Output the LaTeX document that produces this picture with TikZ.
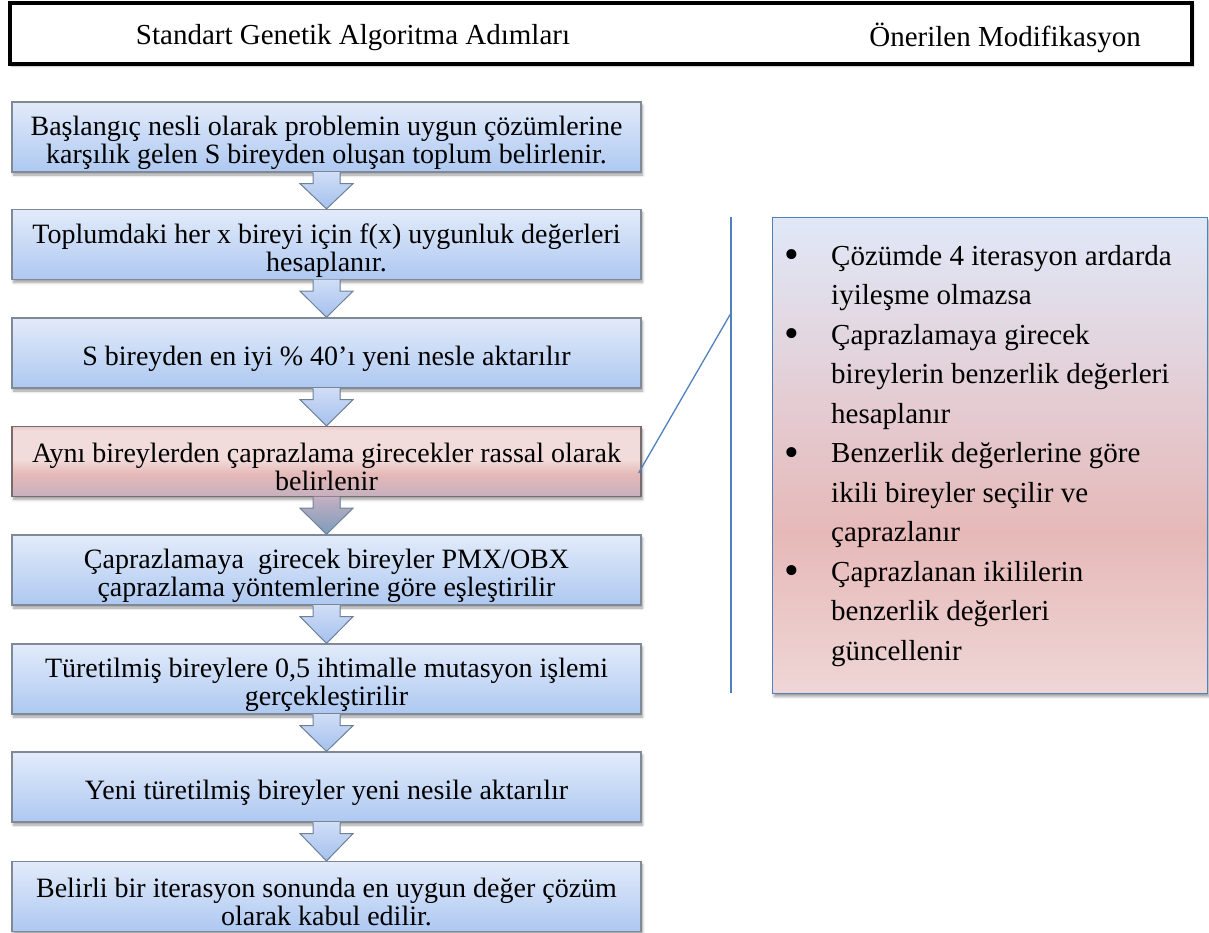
\documentclass[tikz,border=0pt]{standalone}
\usepackage{fontspec}
\usepackage{graphicx}
\setmainfont{Liberation Serif}
\usetikzlibrary{calc,shadows.blur}
\definecolor{blueT}{HTML}{E2EBFA}
\definecolor{blueB}{HTML}{AEC8F1}
\definecolor{boxedge}{HTML}{7F8A96}
\definecolor{arrT}{HTML}{D0DEF6}
\definecolor{arrB}{HTML}{A5C0EE}
\definecolor{arredge}{HTML}{6E8297}
\definecolor{redTop}{HTML}{E9C9C9}
\definecolor{redL}{HTML}{F2DCDB}
\definecolor{redM}{HTML}{E5B9B8}
\definecolor{redB}{HTML}{C6B0BE}
\definecolor{rededge}{HTML}{776B6E}
\definecolor{rarrT}{HTML}{C4B0C2}
\definecolor{rarrB}{HTML}{7C9CBC}
\definecolor{modT}{HTML}{E0E8F8}
\definecolor{modM}{HTML}{E6B9B8}
\definecolor{modB}{HTML}{EFD6D6}
\definecolor{modedge}{HTML}{4F81BD}
\pgfdeclareverticalshading{redfill}{100bp}{color(0bp)=(redB); color(25bp)=(redB); color(41bp)=(redM); color(52bp)=(redL); color(72bp)=(redL); color(75bp)=(redTop); color(100bp)=(redTop)}
\pgfdeclareverticalshading{modfill}{100bp}{color(0bp)=(modB); color(25bp)=(modB); color(42bp)=(modM); color(60bp)=(modT!55!modM); color(75bp)=(modT); color(100bp)=(modT)}
\newcommand\blkarrow[4]{%
  \fill[#3] ($(#1.south)+(-13.5,-0.8)$) -- ($(#1.south)+(-13.5,11)$) -- ($(#1.south)+(-26.5,11)$) -- (#2.north) -- ($(#1.south)+(26.5,11)$) -- ($(#1.south)+(13.5,11)$) -- ($(#1.south)+(13.5,-0.8)$) -- cycle;
  \draw[#4] ($(#1.south)+(-13.5,0)$) -- ($(#1.south)+(-13.5,11)$) -- ($(#1.south)+(-26.5,11)$) -- (#2.north) -- ($(#1.south)+(26.5,11)$) -- ($(#1.south)+(13.5,11)$) -- ($(#1.south)+(13.5,0)$);}
\newcommand\topstr{\rule{0pt}{31pt}}
\newcommand\bul{\makebox[47pt][l]{\raisebox{-3.5pt}{\scalebox{1.45}{•}}}}
\tikzset{
  shd/.style={blur shadow={shadow xshift=1.5pt, shadow yshift=-3pt, shadow blur radius=2.5pt, shadow blur steps=6, shadow opacity=38}},
  txt/.style={font=\fontsize{29pt}{28pt}\selectfont, inner sep=0pt},
  ftxt/.style={font=\fontsize{28pt}{28pt}\selectfont, inner sep=0pt},
  fbox/.style={ftxt, draw=boxedge, line width=1.2pt, top color=blueT, bottom color=blueB, minimum width=629pt, minimum height=70pt, align=center, shd},
  rbox/.style={ftxt, draw=rededge, line width=1.2pt, shading=redfill, minimum width=629pt, minimum height=70pt, align=center, shd},
  afill/.style={top color=arrT, bottom color=arrB},
  aline/.style={draw=arredge, line width=1pt, line join=miter},
  rafill/.style={top color=rarrT, bottom color=rarrB},
  hdr/.style={draw=black, line width=4pt, fill=white, minimum width=1182pt, minimum height=61pt, blur shadow={shadow xshift=1.5pt, shadow yshift=-2pt, shadow blur radius=2pt, shadow opacity=30}},
  modbox/.style={draw=modedge, line width=1.3pt, shading=modfill, minimum width=435pt, minimum height=476pt, shd},
  bline/.style={draw=modedge, line width=1.3pt},
}
\begin{document}
\begin{tikzpicture}[x=1pt, y=-1pt]
\useasboundingbox (0,0) rectangle (1209,932);
% header
\node[hdr] (hdr) at (601,33.5) {};
\node[txt] (h1) at (353,38) {Standart Genetik Algoritma Adımları};
\node[txt, anchor=east] (h2) at (1141,38) {Önerilen Modifikasyon};
% flow boxes
\node[fbox] (b1) at (326.5,137) {\topstr Başlangıç nesli olarak problemin uygun çözümlerine\\karşılık gelen S bireyden oluşan toplum belirlenir.};
\node[fbox] (b2) at (326.5,244.5) {\topstr Toplumdaki her x bireyi için f(x) uygunluk değerleri\\hesaplanır.};
\node[fbox] (b3) at (326.5,353) {\topstr S bireyden en iyi \% 40’ı yeni nesle aktarılır};
\node[rbox] (b4) at (326.5,461.5) {\topstr Aynı bireylerden çaprazlama girecekler rassal olarak\\belirlenir};
\node[fbox] (b5) at (326.5,570) {\topstr Çaprazlamaya~ girecek bireyler PMX/OBX\\çaprazlama yöntemlerine göre eşleştirilir};
\node[fbox] (b6) at (326.5,679) {\topstr Türetilmiş bireylere 0,5 ihtimalle mutasyon işlemi\\gerçekleştirilir};
\node[fbox] (b7) at (326.5,787) {\topstr Yeni türetilmiş bireyler yeni nesile aktarılır};
\node[fbox] (b8) at (326.5,896.5) {\topstr Belirli bir iterasyon sonunda en uygun değer çözüm\\olarak kabul edilir.};
% block arrows
\blkarrow{b1}{b2}{afill}{aline}
\blkarrow{b2}{b3}{afill}{aline}
\blkarrow{b3}{b4}{afill}{aline}
\blkarrow{b4}{b5}{rafill}{aline}
\blkarrow{b5}{b6}{afill}{aline}
\blkarrow{b6}{b7}{afill}{aline}
\blkarrow{b7}{b8}{afill}{aline}
% modification box
\node[modbox, anchor=north west] (mod) at (772,217) {};
\node[anchor=west, align=left, inner sep=0pt, font=\fontsize{29pt}{39.5pt}\selectfont] (modtxt) at ($(mod.west)+(12,0)$) {%
\bul Çözümde 4 iterasyon ardarda\\
\hspace*{47pt}iyileşme olmazsa\\
\bul Çaprazlamaya girecek\\
\hspace*{47pt}bireylerin benzerlik değerleri\\
\hspace*{47pt}hesaplanır\\
\bul Benzerlik değerlerine göre\\
\hspace*{47pt}ikili bireyler seçilir ve\\
\hspace*{47pt}çaprazlanır\\
\bul Çaprazlanan ikililerin\\
\hspace*{47pt}benzerlik değerleri\\
\hspace*{47pt}güncellenir};
% bracket
\coordinate (brT) at (731,217);
\coordinate (brB) at (731,693);
\coordinate (brM) at (731,313);
\coordinate (c4) at ($(b4.east)+(-3,11.5)$);
\draw[bline] (brT) -- (brB);
\draw[bline] (brM) -- (c4);
\end{tikzpicture}
\end{document}
